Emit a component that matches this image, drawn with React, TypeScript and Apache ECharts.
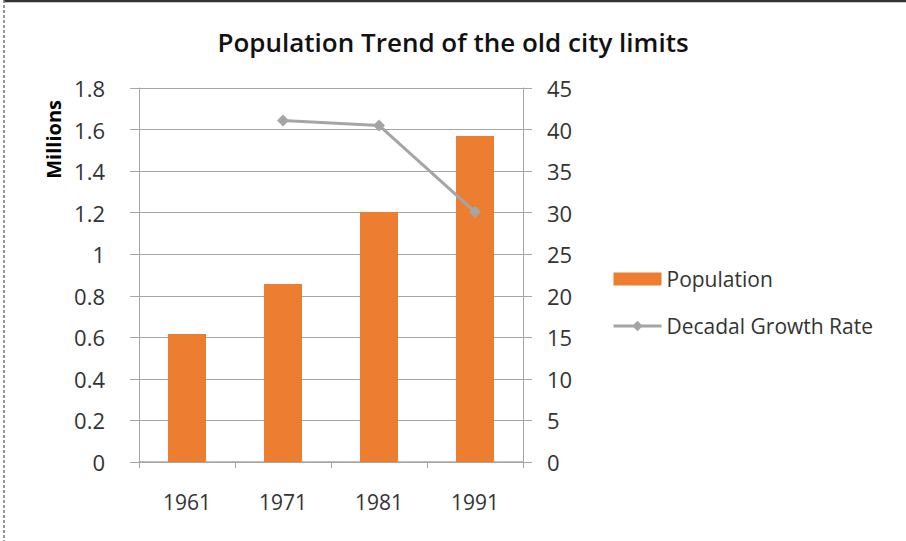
import React, { useEffect, useRef } from "react";
import * as echarts from "echarts";

const years = ["1961", "1971", "1981", "1991"];
const population = [0.616, 0.857, 1.203, 1.569];
const growthRate: (number | null)[] = [null, 41.1, 40.5, 30.1];
const leftTicks = [0, 0.2, 0.4, 0.6, 0.8, 1, 1.2, 1.4, 1.6, 1.8];
const rightTicks = [0, 5, 10, 15, 20, 25, 30, 35, 40, 45];

const FONT = "'Open Sans', 'Noto Sans', sans-serif";

export default function App() {
  const ref = useRef<HTMLDivElement>(null);
  useEffect(() => {
    if (!ref.current) return;
    const chart = echarts.init(ref.current, undefined, { renderer: "svg" });
    const axisColor = "#a6a6a6";
    chart.setOption({
      animation: false,
      backgroundColor: "#ffffff",
      textStyle: { fontFamily: FONT },
      title: {
        text: "Population Trend of the old city limits",
        left: "center",
        top: 24,
        textStyle: { fontFamily: FONT, fontSize: 26, fontWeight: 600, color: "#111" },
      },
      legend: {
        orient: "vertical",
        left: 607,
        top: 263,
        itemWidth: 48,
        itemHeight: 13,
        itemGap: 25,
        textStyle: { fontSize: 21, lineHeight: 22, color: "#333" },
        data: [
          { name: "Population", icon: "rect" },
          { name: "Decadal Growth Rate", lineStyle: { width: 3 } },
        ],
      },
      grid: { left: 139, right: 383, top: 88, bottom: 79 },
      xAxis: {
        type: "category",
        data: years,
        boundaryGap: true,
        axisLine: { lineStyle: { color: axisColor, width: 1.5 } },
        axisTick: { show: true, length: 6, lineStyle: { color: axisColor } },
        axisLabel: { fontSize: 21, color: "#333", margin: 29 },
      },
      yAxis: [
        {
          type: "value",
          min: 0,
          max: leftTicks[leftTicks.length - 1],
          interval: 0.2,
          name: "Millions",
          nameLocation: "end",
          nameRotate: 90,
          nameGap: 0,
          nameTextStyle: { fontSize: 20, fontWeight: "bold", color: "#000", align: "right", verticalAlign: "bottom", padding: [0, 12, 76, 0] },
          axisLine: { show: true, lineStyle: { color: axisColor } },
          axisTick: { show: true, length: 9, lineStyle: { color: axisColor } },
          splitLine: { lineStyle: { color: axisColor } },
          axisLabel: { fontSize: 22, color: "#333", margin: 34, formatter: (v: number) => String(Math.round(v * 10) / 10) },
        },
        {
          type: "value",
          min: 0,
          max: rightTicks[rightTicks.length - 1],
          interval: 5,
          position: "right",
          axisLine: { show: true, lineStyle: { color: axisColor } },
          axisTick: { show: true, length: 9, lineStyle: { color: axisColor } },
          splitLine: { show: false },
          axisLabel: { fontSize: 22, color: "#333", margin: 24 },
        },
      ],
      series: [
        {
          name: "Population",
          type: "bar",
          data: population,
          yAxisIndex: 0,
          barWidth: 38,
          itemStyle: { color: "#ED7D31" },
        },
        {
          name: "Decadal Growth Rate",
          type: "line",
          data: growthRate,
          yAxisIndex: 1,
          symbol: "diamond",
          symbolSize: 12,
          lineStyle: { color: "#a5a5a5", width: 3 },
          itemStyle: { color: "#a5a5a5" },
        },
      ],
      graphic: [
        { type: "line", shape: { x1: 4, y1: 1, x2: 906, y2: 1 }, style: { stroke: "#333", lineWidth: 2.5 } },
        { type: "line", shape: { x1: 4, y1: 0, x2: 4, y2: 541 }, style: { stroke: "#777", lineWidth: 1.5, lineDash: [3, 2] } },
      ],
    });
    return () => chart.dispose();
  }, []);
  return <div ref={ref} style={{ position: "fixed", left: 0, top: 0, width: 906, height: 541 }} />;
}
